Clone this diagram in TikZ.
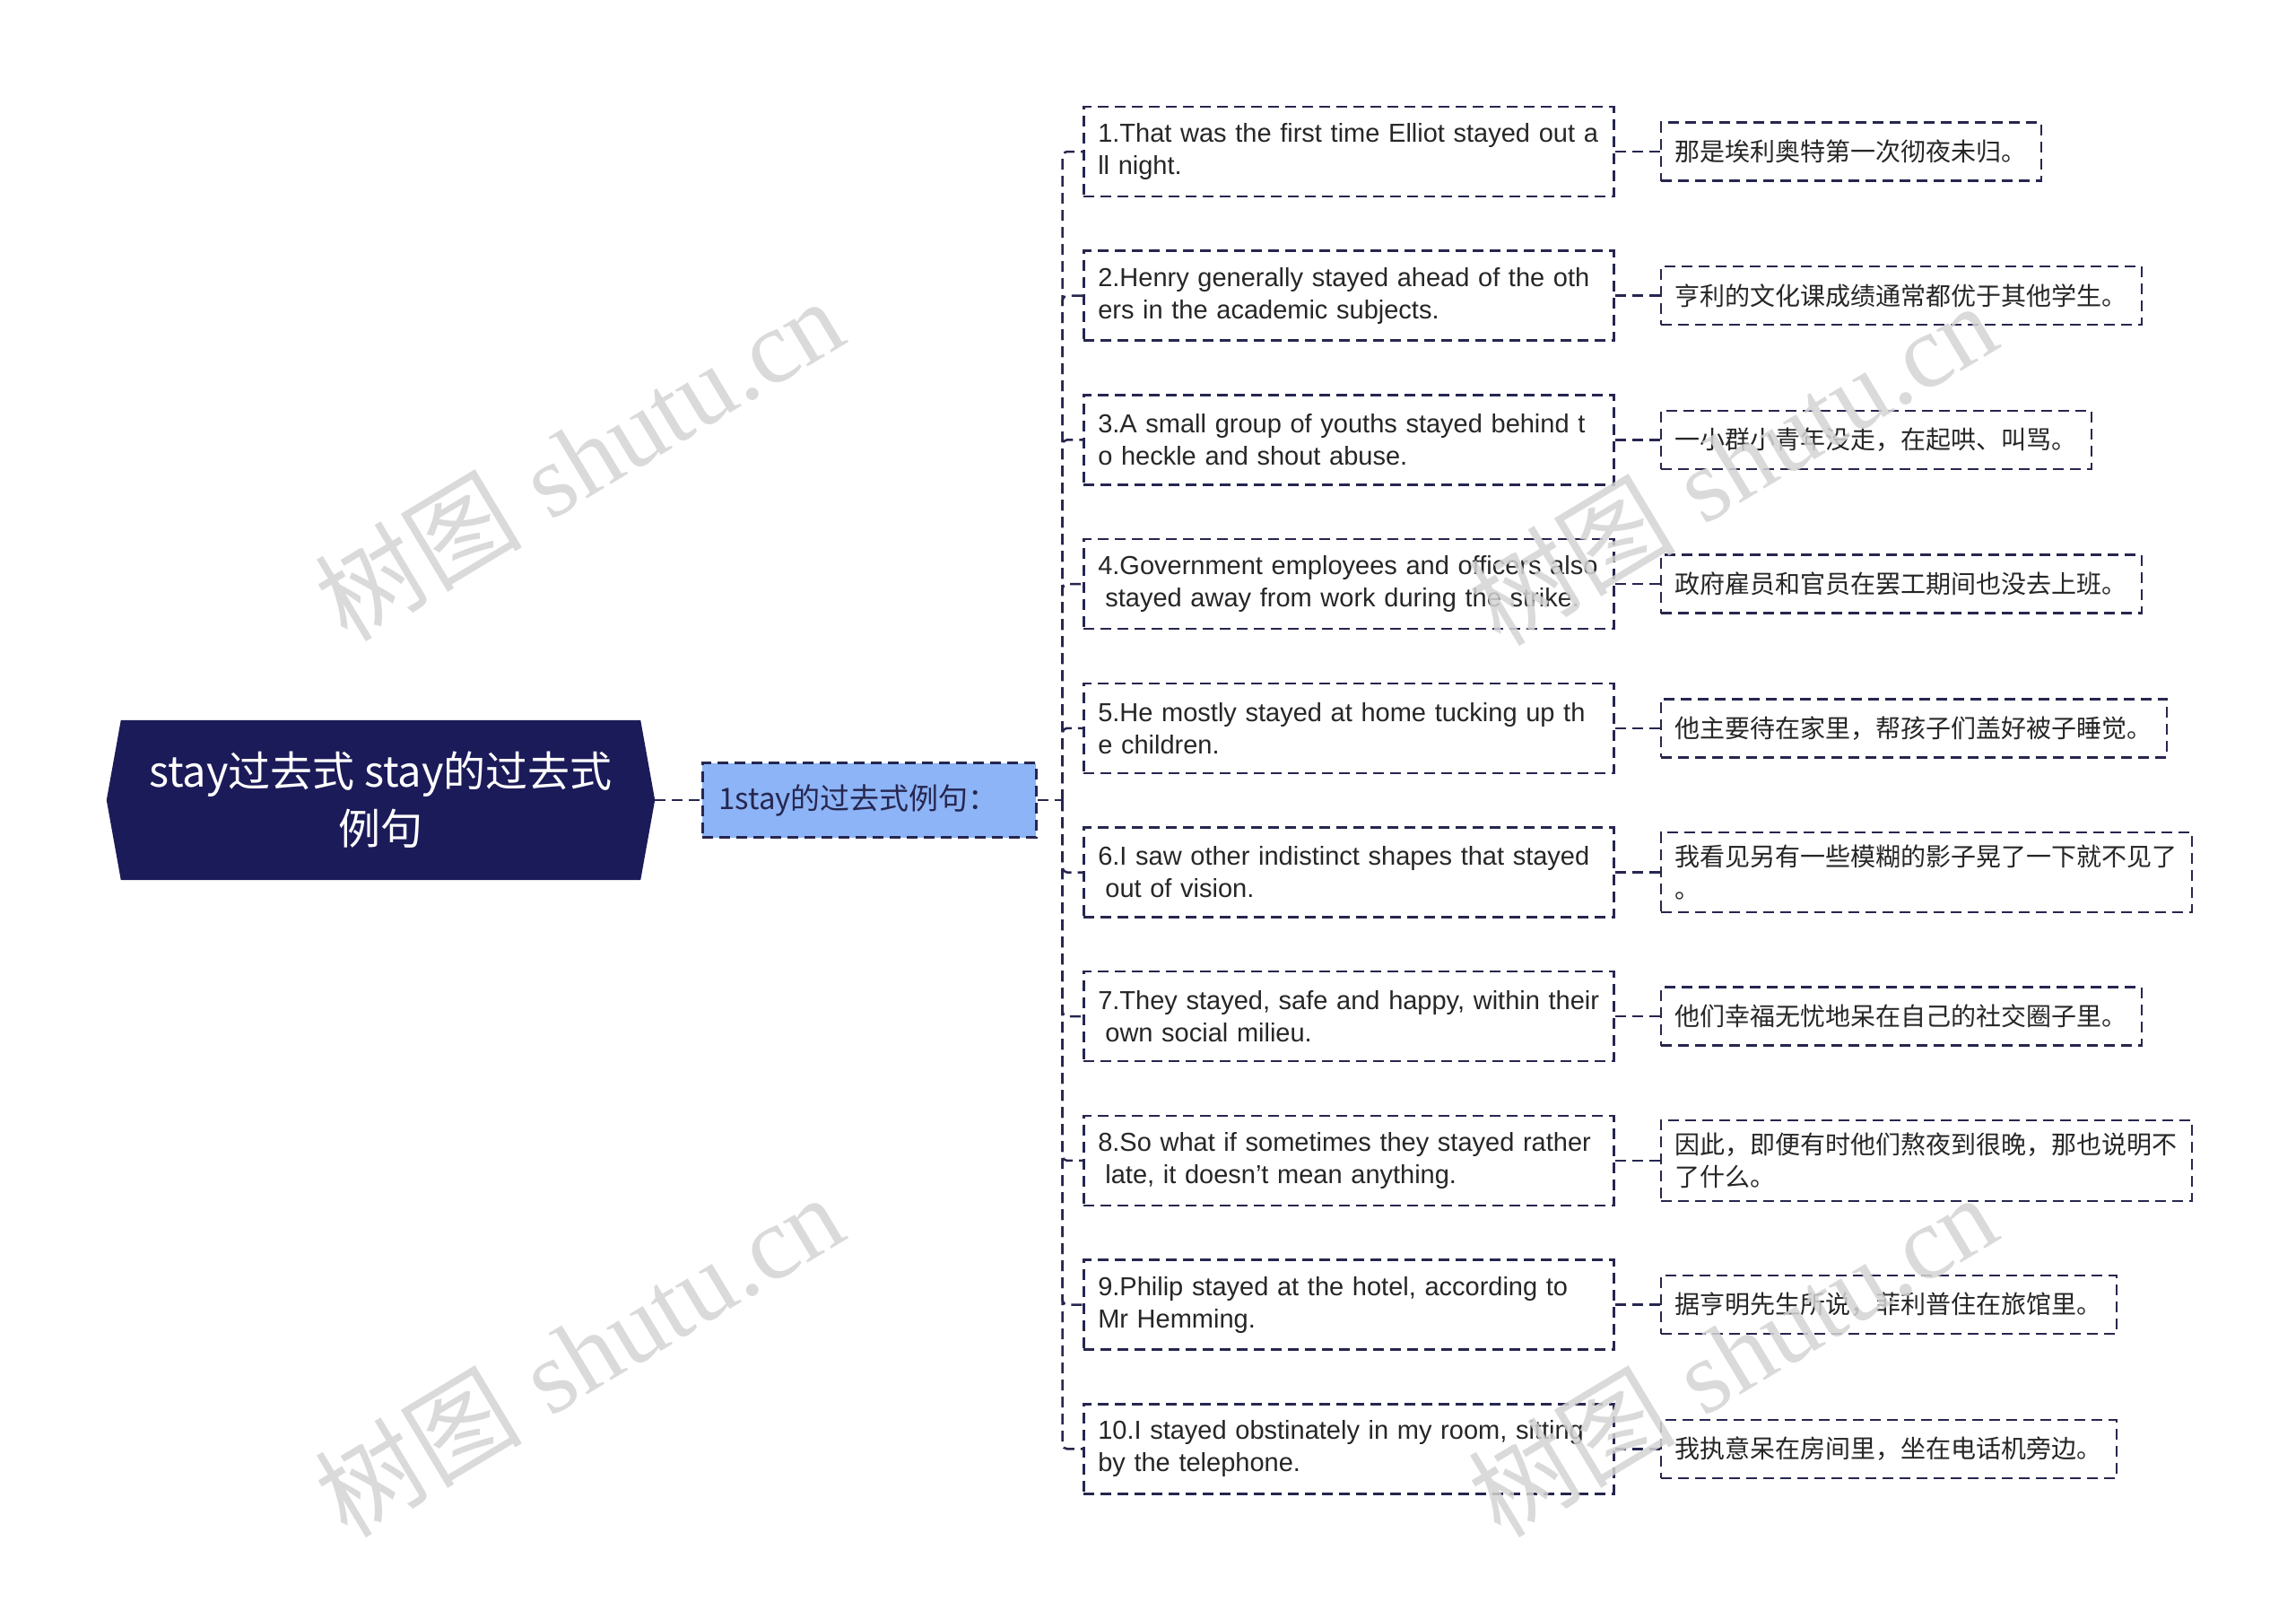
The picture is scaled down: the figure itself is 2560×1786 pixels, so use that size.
\documentclass[tikz,border=0pt]{standalone}
\usepackage{fontspec}
\setmainfont{Liberation Sans}
\newfontfamily\cjk{Noto Sans CJK SC}
\newfontfamily\wmfont{Liberation Serif}
\usetikzlibrary{positioning,backgrounds}
\definecolor{navy}{HTML}{1C1B59}
\definecolor{linkcol}{HTML}{26264F}
\definecolor{midblue}{HTML}{8DB4F6}
\definecolor{wmgray}{HTML}{D4D4D4}
\tikzset{
    link/.style={draw=linkcol, line width=2.5pt, dash pattern=on 12pt off 7pt},
    rootbox/.style={minimum width=611pt, minimum height=178pt, align=center, text=white, font=\cjk\fontsize{47}{64}\selectfont},
    midbox/.style={link, fill=midblue, text width=336pt, inner xsep=18pt, align=left, minimum height=83pt, font=\cjk\fontsize{33}{40}\selectfont, text=linkcol},
    enbox/.style={link, fill=white, text width=559pt, inner xsep=16pt, minimum height=100pt, align=left, font=\fontsize{29}{36}\selectfont, text=black!85},
    zhbox/.style={link, fill=white, inner xsep=16pt, inner ysep=14pt, minimum height=65pt, align=left, font=\cjk\fontsize{28}{36}\selectfont, text=black!85},
    wmtext/.style={text=wmgray, rotate=31, opacity=0.85, font=\fontsize{116}{116}\selectfont}
}

\begin{document}
\begin{tikzpicture}[x=1pt, y=-1pt]
\useasboundingbox (0,0) rectangle (2560,1786);

% root and first level
\node[rootbox] (root) at (424.5,892) {stay过去式 stay的过去式\\例句};
\begin{scope}[on background layer]
\fill[navy] ([xshift=16pt]root.north west) -- ([xshift=-16pt]root.north east) -- (root.east)
    -- ([xshift=-16pt]root.south east) -- ([xshift=16pt]root.south west) -- (root.west) -- cycle;
\end{scope}
\node[midbox, right=52pt of root] (mid) {1stay的过去式例句：};
\coordinate (trunk) at ([xshift=28pt]mid.east);

% english sentences
\node[enbox, anchor=west] (e1) at (1207,169) {1.That was the first time Elliot stayed out a\\ll night.};
\node[enbox, below=58.2pt of e1] (e2) {2.Henry generally stayed ahead of the oth\\ers in the academic subjects.};
\node[enbox, below=58.2pt of e2] (e3) {3.A small group of youths stayed behind t\\o heckle and shout abuse.};
\node[enbox, below=58.2pt of e3] (e4) {4.Government employees and officers also\\\hspace*{0.28em}stayed away from work during the strike.};
\node[enbox, below=58.2pt of e4] (e5) {5.He mostly stayed at home tucking up th\\e children.};
\node[enbox, below=58.2pt of e5] (e6) {6.I saw other indistinct shapes that stayed\\\hspace*{0.28em}out of vision.};
\node[enbox, below=58.2pt of e6] (e7) {7.They stayed, safe and happy, within their\\\hspace*{0.28em}own social milieu.};
\node[enbox, below=58.2pt of e7] (e8) {8.So what if sometimes they stayed rather\\\hspace*{0.28em}late, it doesn't mean anything.};
\node[enbox, below=58.2pt of e8] (e9) {9.Philip stayed at the hotel, according to\\Mr Hemming.};
\node[enbox, below=58.2pt of e9] (e10) {10.I stayed obstinately in my room, sitting\\by the telephone.};

% chinese translations
\node[zhbox, right=50pt of e1] (c1) {那是埃利奥特第一次彻夜未归。};
\node[zhbox, right=50pt of e2] (c2) {亨利的文化课成绩通常都优于其他学生。};
\node[zhbox, right=50pt of e3] (c3) {一小群小青年没走，在起哄、叫骂。};
\node[zhbox, right=50pt of e4] (c4) {政府雇员和官员在罢工期间也没去上班。};
\node[zhbox, right=50pt of e5] (c5) {他主要待在家里，帮孩子们盖好被子睡觉。};
\node[zhbox, right=50pt of e6] (c6) {我看见另有一些模糊的影子晃了一下就不见了\\。};
\node[zhbox, right=50pt of e7] (c7) {他们幸福无忧地呆在自己的社交圈子里。};
\node[zhbox, right=50pt of e8] (c8) {因此，即便有时他们熬夜到很晚，那也说明不\\了什么。};
\node[zhbox, right=50pt of e9] (c9) {据亨明先生所说，菲利普住在旅馆里。};
\node[zhbox, right=50pt of e10] (c10) {我执意呆在房间里，坐在电话机旁边。};

\draw[link] (root) -- (mid);
\draw[link] (mid) -- (trunk);
\foreach \i in {1,...,10} {
    \draw[link, rounded corners=5pt] (trunk) |- (e\i.west);
    \draw[link] (e\i) -- (c\i);
}

% watermarks
\node[wmtext] (wm1) at (645,511) {{\cjk 树图} {\wmfont shutu.cn}};
\node[wmtext] (wm2) at (645,1510) {{\cjk 树图} {\wmfont shutu.cn}};
\node[wmtext] (wm3) at (1931,516) {{\cjk 树图} {\wmfont shutu.cn}};
\node[wmtext] (wm4) at (1931,1510) {{\cjk 树图} {\wmfont shutu.cn}};
\end{tikzpicture}
\end{document}
